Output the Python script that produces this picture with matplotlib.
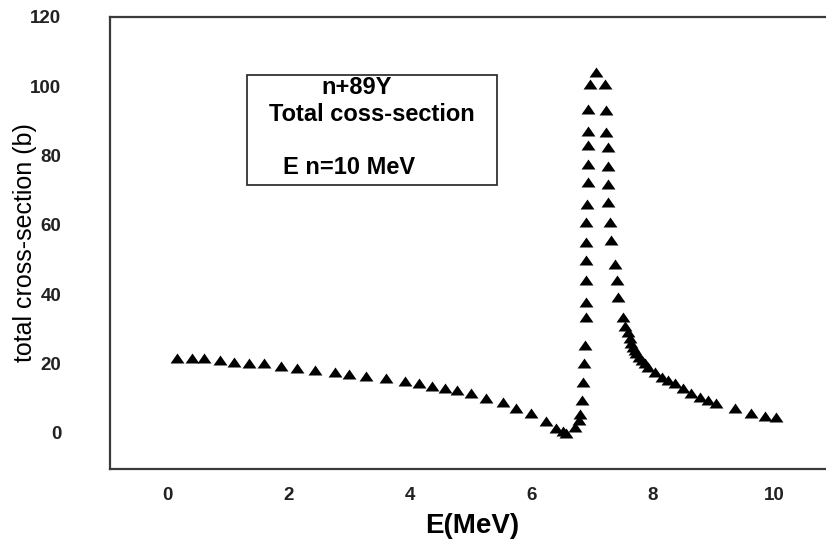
#!/usr/bin/env python3
"""Total cross-section of n+89Y versus neutron energy."""

import matplotlib

matplotlib.use("Agg")
import matplotlib.pyplot as plt
from matplotlib.patches import Rectangle

plt.rcParams["font.family"] = ["Liberation Sans", "DejaVu Sans"]

# values
energy = [
    0.16, 0.41, 0.61, 0.86, 1.09, 1.34, 1.60, 1.88, 2.13, 2.44, 2.76, 3.00,
    3.28, 3.61, 3.91, 4.14, 4.37, 4.57, 4.77, 5.00, 5.25, 5.53, 5.74, 5.99,
    6.25, 6.41, 6.52, 6.58,
    6.72, 6.78, 6.81, 6.84, 6.86, 6.87, 6.88, 6.91, 6.91, 6.91, 6.91, 6.91,
    6.91, 6.92, 6.93, 6.93, 6.93, 6.93, 6.93, 6.97, 7.07,
    7.21, 7.24, 7.24, 7.27, 7.27, 7.27, 7.27, 7.29, 7.32, 7.38, 7.41, 7.43,
    7.51, 7.55, 7.59, 7.62, 7.65, 7.68, 7.71, 7.73, 7.77, 7.82, 7.87, 7.93,
    8.04, 8.15, 8.26, 8.37, 8.50, 8.64, 8.78, 8.92, 9.05, 9.36, 9.63, 9.85,
    10.04,
]
sigma = [
    21.5, 21.5, 21.5, 21.0, 20.5, 20.2, 20.0, 19.3, 18.6, 18.1, 17.6, 17.0,
    16.4, 15.7, 14.8, 14.3, 13.5, 12.8, 12.2, 11.6, 10.0, 9.0, 7.1, 5.8,
    3.3, 1.4, 0.5, -0.2,
    1.6, 3.8, 5.5, 9.5, 14.6, 20.0, 25.2, 33.5, 37.8, 44.0, 49.8, 55.1,
    60.8, 66.1, 72.3, 77.6, 82.9, 87.2, 93.4, 100.6, 104.0,
    100.6, 93.0, 86.7, 82.4, 77.1, 71.9, 66.6, 60.8, 55.5, 48.8, 44.0, 39.2,
    33.5, 30.8, 29.0, 27.3, 26.0, 24.8, 23.8, 22.9, 22.0, 21.0, 20.0, 19.1,
    17.6, 16.2, 15.3, 14.3, 12.9, 11.4, 10.4, 9.5, 8.5, 7.1, 5.7, 4.7,
    4.5,
]
x_ticks = [0, 2, 4, 6, 8, 10]
y_ticks = [0, 20, 40, 60, 80, 100, 120]
box_lines = ["n+89Y", "Total coss-section", "E n=10 MeV"]

# flattened upward triangle like the spreadsheet marker
triangle = [(-1.0, -0.72), (1.0, -0.72), (0.0, 0.72), (-1.0, -0.72)]

fig = plt.figure(figsize=(8.26, 5.42), dpi=100)
ax = fig.add_axes([0.133, 0.135, 0.867, 0.834])

ax.plot(energy, sigma, linestyle="none", marker=triangle, markersize=10,
        color="black", markeredgewidth=0)

ax.set_xlim(-0.95, 10.86)
ax.set_ylim(-10.4, 120)
ax.set_xticks(x_ticks)
ax.set_yticks(y_ticks)
ax.tick_params(length=0, labelsize=13.5, colors="#222222")
ax.tick_params(axis="y", pad=35)
ax.tick_params(axis="x", pad=13)
for lab in ax.get_xticklabels() + ax.get_yticklabels():
    lab.set_fontweight("bold")

for side in ("left", "top", "bottom"):
    ax.spines[side].set_color("#3a3a3a")
    ax.spines[side].set_linewidth(1.6)
ax.spines["right"].set_visible(False)

ax.set_xlabel("E(MeV)", fontsize=20, fontweight="bold", va="center")
ax.xaxis.set_label_coords(0.506, -0.126)
ax.set_ylabel("total cross-section (b)", fontsize=18, va="center")
ax.yaxis.set_label_coords(-0.119, 0.5)

ax.add_patch(Rectangle((0.191, 0.628), 0.349, 0.244, transform=ax.transAxes,
                       fill=False, edgecolor="#333333", linewidth=1.3))
ax.text(0.345, 0.843, box_lines[0], transform=ax.transAxes, ha="center",
        va="center", fontsize=17, fontweight="bold")
ax.text(0.366, 0.783, box_lines[1], transform=ax.transAxes, ha="center",
        va="center", fontsize=17, fontweight="bold")
ax.text(0.242, 0.666, box_lines[2], transform=ax.transAxes, ha="left",
        va="center", fontsize=17, fontweight="bold")

fig.savefig("out.png", dpi=100)
